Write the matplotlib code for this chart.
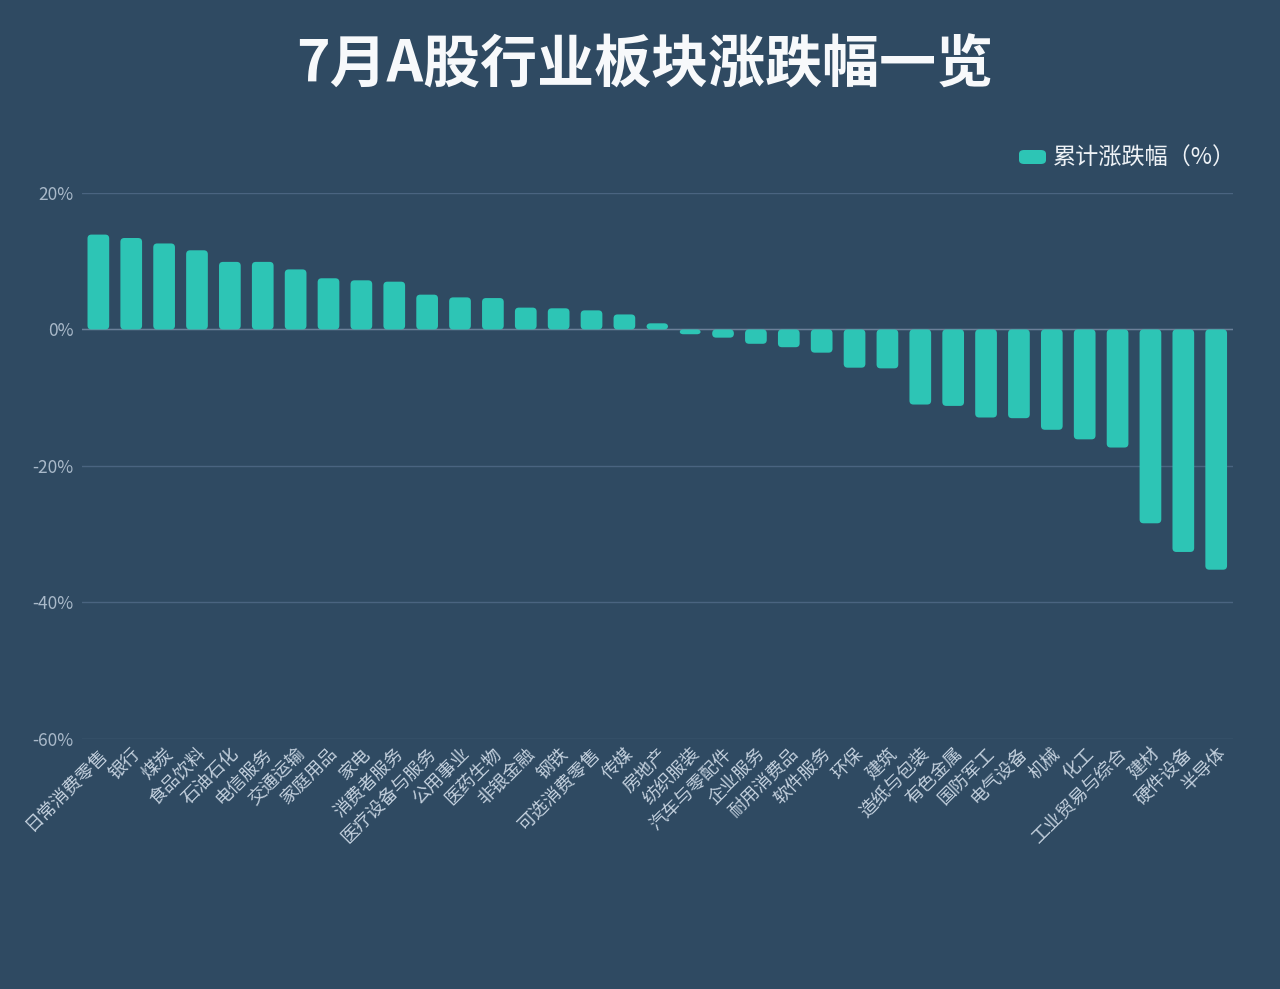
import numpy as np
import matplotlib.pyplot as plt
from matplotlib.patches import FancyBboxPatch

plt.rcParams['font.family'] = ['Noto Sans CJK SC', 'DejaVu Sans']

#-------------------------数据部分------------------------------
sectors = ['日常消费零售', '银行', '煤炭', '食品饮料', '石油石化', '电信服务', '交通运输',
           '家庭用品', '家电', '消费者服务', '医疗设备与服务', '公用事业', '医药生物',
           '非银金融', '钢铁', '可选消费零售', '传媒', '房地产', '纺织服装', '汽车与零配件',
           '企业服务', '耐用消费品', '软件服务', '环保', '建筑', '造纸与包装', '有色金属',
           '国防军工', '电气设备', '机械', '化工', '工业贸易与综合', '建材', '硬件设备', '半导体']
changes = [13.9, 13.4, 12.6, 11.6, 9.9, 9.9, 8.8, 7.5, 7.2, 7.0, 5.1, 4.7, 4.6,
           3.2, 3.1, 2.8, 2.2, 0.9, -0.7, -1.2, -2.1, -2.6, -3.4, -5.6, -5.7,
           -11.0, -11.2, -12.9, -13.0, -14.7, -16.1, -17.3, -28.4, -32.6, -35.2]
yticks = [20, 0, -20, -40, -60]
title = '7月A股行业板块涨跌幅一览'
legend_label = '累计涨跌幅（%）'

bg = '#2f4a62'
bar_color = '#2dc5b5'
grid_color = '#4a6480'

#-------------------------绘图部分------------------------------
fig = plt.figure(figsize=(12.8, 9.89), dpi=100, facecolor=bg)
ax = fig.add_axes([0.064, 0.2528, 0.899, 0.5521])
ax.set_facecolor(bg)

x = np.arange(len(sectors))
bars = ax.bar(x, changes, width=0.66, color=bar_color, zorder=3)
# 圆角柱子
for b in bars:
    b.set_visible(False)
    h = b.get_height()
    y0 = b.get_y()
    if h < 0:
        y0, h = y0 + h, -h
    p = FancyBboxPatch((b.get_x(), y0), b.get_width(), h,
                       boxstyle='round,pad=0,rounding_size=0.12',
                       mutation_aspect=4.8,
                       facecolor=bar_color, edgecolor='none', zorder=3)
    ax.add_patch(p)

ax.set_xlim(-0.5, len(sectors) - 0.5)
ax.set_ylim(-60, 20)
ax.set_yticks(yticks)
ax.set_yticklabels([f'{v}%' for v in yticks], color='#a9b9c9', fontsize=12.5)
ax.yaxis.grid(True, color=grid_color, linewidth=1.0, zorder=0)
ax.axhline(0, color='#6b8099', linewidth=1.0, zorder=2)
ax.set_xticks(x)
ax.set_xticklabels(sectors, rotation=45, ha='right', rotation_mode='anchor',
                   color='#c3d0dd', fontsize=13)
ax.tick_params(axis='both', length=0, pad=4)
ax.tick_params(axis='y', pad=6)
for s in ax.spines.values():
    s.set_visible(False)

fig.text(0.504, 0.934, title, ha='center', va='center', color='#f7f9fb',
         fontsize=41, fontweight=900)

# 图例
fig.patches.append(FancyBboxPatch((1019 / 1280, 1 - 164 / 989), 27 / 1280, 14 / 989,
                                  boxstyle='round,pad=0,rounding_size=0.004',
                                  transform=fig.transFigure, facecolor=bar_color,
                                  edgecolor='none'))
fig.text(1053 / 1280, 1 - 158 / 989, legend_label, ha='left', va='center',
         color='#eef2f6', fontsize=16.7)

fig.savefig('out.png', dpi=100, facecolor=bg)
